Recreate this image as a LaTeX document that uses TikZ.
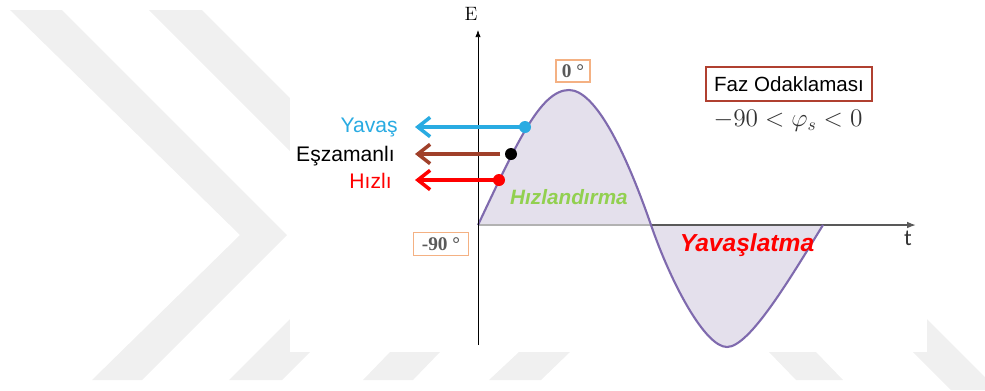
\documentclass[tikz,border=0pt]{standalone}
\usepackage{fontspec}
\usepackage{amsmath}
\usetikzlibrary{positioning, calc, arrows.meta}
\newfontfamily\arialfont{Liberation Sans}
\newfontfamily\seriffont{Liberation Serif}
\newfontfamily\califont{Carlito}
\definecolor{Wave}{HTML}{7F6AAE}
\definecolor{WaveFill}{HTML}{E4E0EC}
\definecolor{Slow}{HTML}{29ABE2}
\definecolor{Sync}{HTML}{A0402A}
\definecolor{Fast}{HTML}{FF0000}
\definecolor{Accel}{HTML}{92D050}
\definecolor{BoxLine}{HTML}{B04030}
\definecolor{DegLine}{HTML}{F4B183}
\definecolor{Mark}{HTML}{F0F0F0}
\tikzset{
    degbox/.style={rectangle, draw=DegLine, line width=1.1pt, fill=white, text=black!65, inner sep=1pt, font=\seriffont\bfseries\fontsize{11}{12}\selectfont},
    sidelabel/.style={anchor=base east, inner sep=0pt, font=\arialfont\fontsize{12}{14}\selectfont},
    pointer/.style={line width=2pt, -{Straight Barb[length=7pt,width=11pt]}},
    phasedot/.style={circle, inner sep=0pt, minimum size=0.24cm},
    axisline/.style={line width=0.9pt, color=black!65},
    zonetext/.style={font=\arialfont\bfseries\itshape\fontsize{11.8}{14}\selectfont},
}

\begin{document}
\begin{tikzpicture}[x=0.02cm, y=-0.02cm]
    \useasboundingbox (0,0) rectangle (985,390);

    % watermark
    \fill[Mark] (10,10) -- (62,10) -- (287,235) -- (142,380) -- (92,380) -- (240,235) -- cycle;
    \fill[Mark] (149,10) -- (202,10) -- (427,235) -- (282,380) -- (229,380) -- (374,235) -- cycle;
    \fill[Mark] (390,352) -- (440,352) -- (413,380) -- (363,380) -- cycle;
    \fill[Mark] (519,352) -- (570,352) -- (541,380) -- (489,380) -- cycle;
    \fill[Mark] (769,352) -- (816,352) -- (843,380) -- (796,380) -- cycle;
    \fill[Mark] (861,300) -- (908,300) -- (985,377) -- (985,390) -- (951,390) -- cycle;
    \fill[white] (290,0) rectangle (927,352);

    % points of the wave
    \coordinate (start) at (478,225);
    \coordinate (peak) at (569,90);
    \coordinate (cross) at (651,225);
    \coordinate (trough) at (727,347);
    \coordinate (wend) at (823,225);
    \coordinate (tend) at (916,225);
    \coordinate (ybot) at (478,345);
    \coordinate (ytop) at (478,30);

    % wave
    \fill[WaveFill] (start) .. controls (516,145) and (540,90) .. (peak)
        .. controls (595,90) and (625,150) .. (cross)
        .. controls (671,283) and (705,347) .. (trough)
        .. controls (750,347) and (792,275) .. (wend) -- cycle;
    \draw[axisline, black!30] (start) -- (cross);
    \draw[axisline, -{Latex[length=5pt]}] (cross) -- (tend);
    \draw[Wave, line width=1.2pt] (start) .. controls (516,145) and (540,90) .. (peak)
        .. controls (595,90) and (625,150) .. (cross)
        .. controls (671,283) and (705,347) .. (trough)
        .. controls (750,347) and (792,275) .. (wend);

    % E axis
    \draw[thin, -{Latex[length=4pt]}] (ybot) -- (ytop);
    \node[font=\fontsize{11}{12}\selectfont] (elab) at (471,14) {E};
    \node[font=\califont\fontsize{13}{14}\selectfont, text=black!80] (tlab) at (908,238) {t};

    % phase boxes
    \node[degbox, minimum width=0.68cm, minimum height=0.44cm] (zero) at (573,71) {0 °};
    \node[degbox, minimum width=1.1cm, minimum height=0.46cm] (minus) at (441,244) {-90 °};

    % particles
    \node[phasedot, fill=Slow] (slowdot) at (525,127) {};
    \node[phasedot, fill=black] (syncdot) at (511,154) {};
    \node[phasedot, fill=Fast] (fastdot) at (499,180) {};
    \coordinate (slowtip) at (415,127);
    \coordinate (synctip) at (415,154);
    \coordinate (fasttip) at (415,180);
    \draw[pointer, Slow] (slowdot.center) -- (slowtip);
    \draw[pointer, Sync, shorten <=2.5pt] (syncdot.west) -- (synctip);
    \draw[pointer, Fast] (fastdot.center) -- (fasttip);
    \node[sidelabel, text=Slow] (slow) at (398,132) {Yavaş};
    \node[sidelabel] (sync) at (395,161) {Eşzamanlı};
    \node[sidelabel, text=Fast] (fast) at (392,188) {Hızlı};

    % zones
    \node[zonetext, text=Accel] (accel) at (569,197) {Hızlandırma};
    \node[zonetext, text=Fast, font=\arialfont\bfseries\itshape\fontsize{14}{16}\selectfont] (decel) at (747,245) {Yavaşlatma};

    % phase focusing
    \node[draw=BoxLine, line width=1.1pt, minimum width=3.32cm, minimum height=0.68cm,
        font=\arialfont\fontsize{11.7}{13}\selectfont] (focus) at (789,84) {Faz Odaklaması};
    \node[text=black!80, font=\fontsize{14.4}{16}\selectfont] (range) at (788,121) {$-90<\varphi_s<0$};
\end{tikzpicture}
\end{document}
